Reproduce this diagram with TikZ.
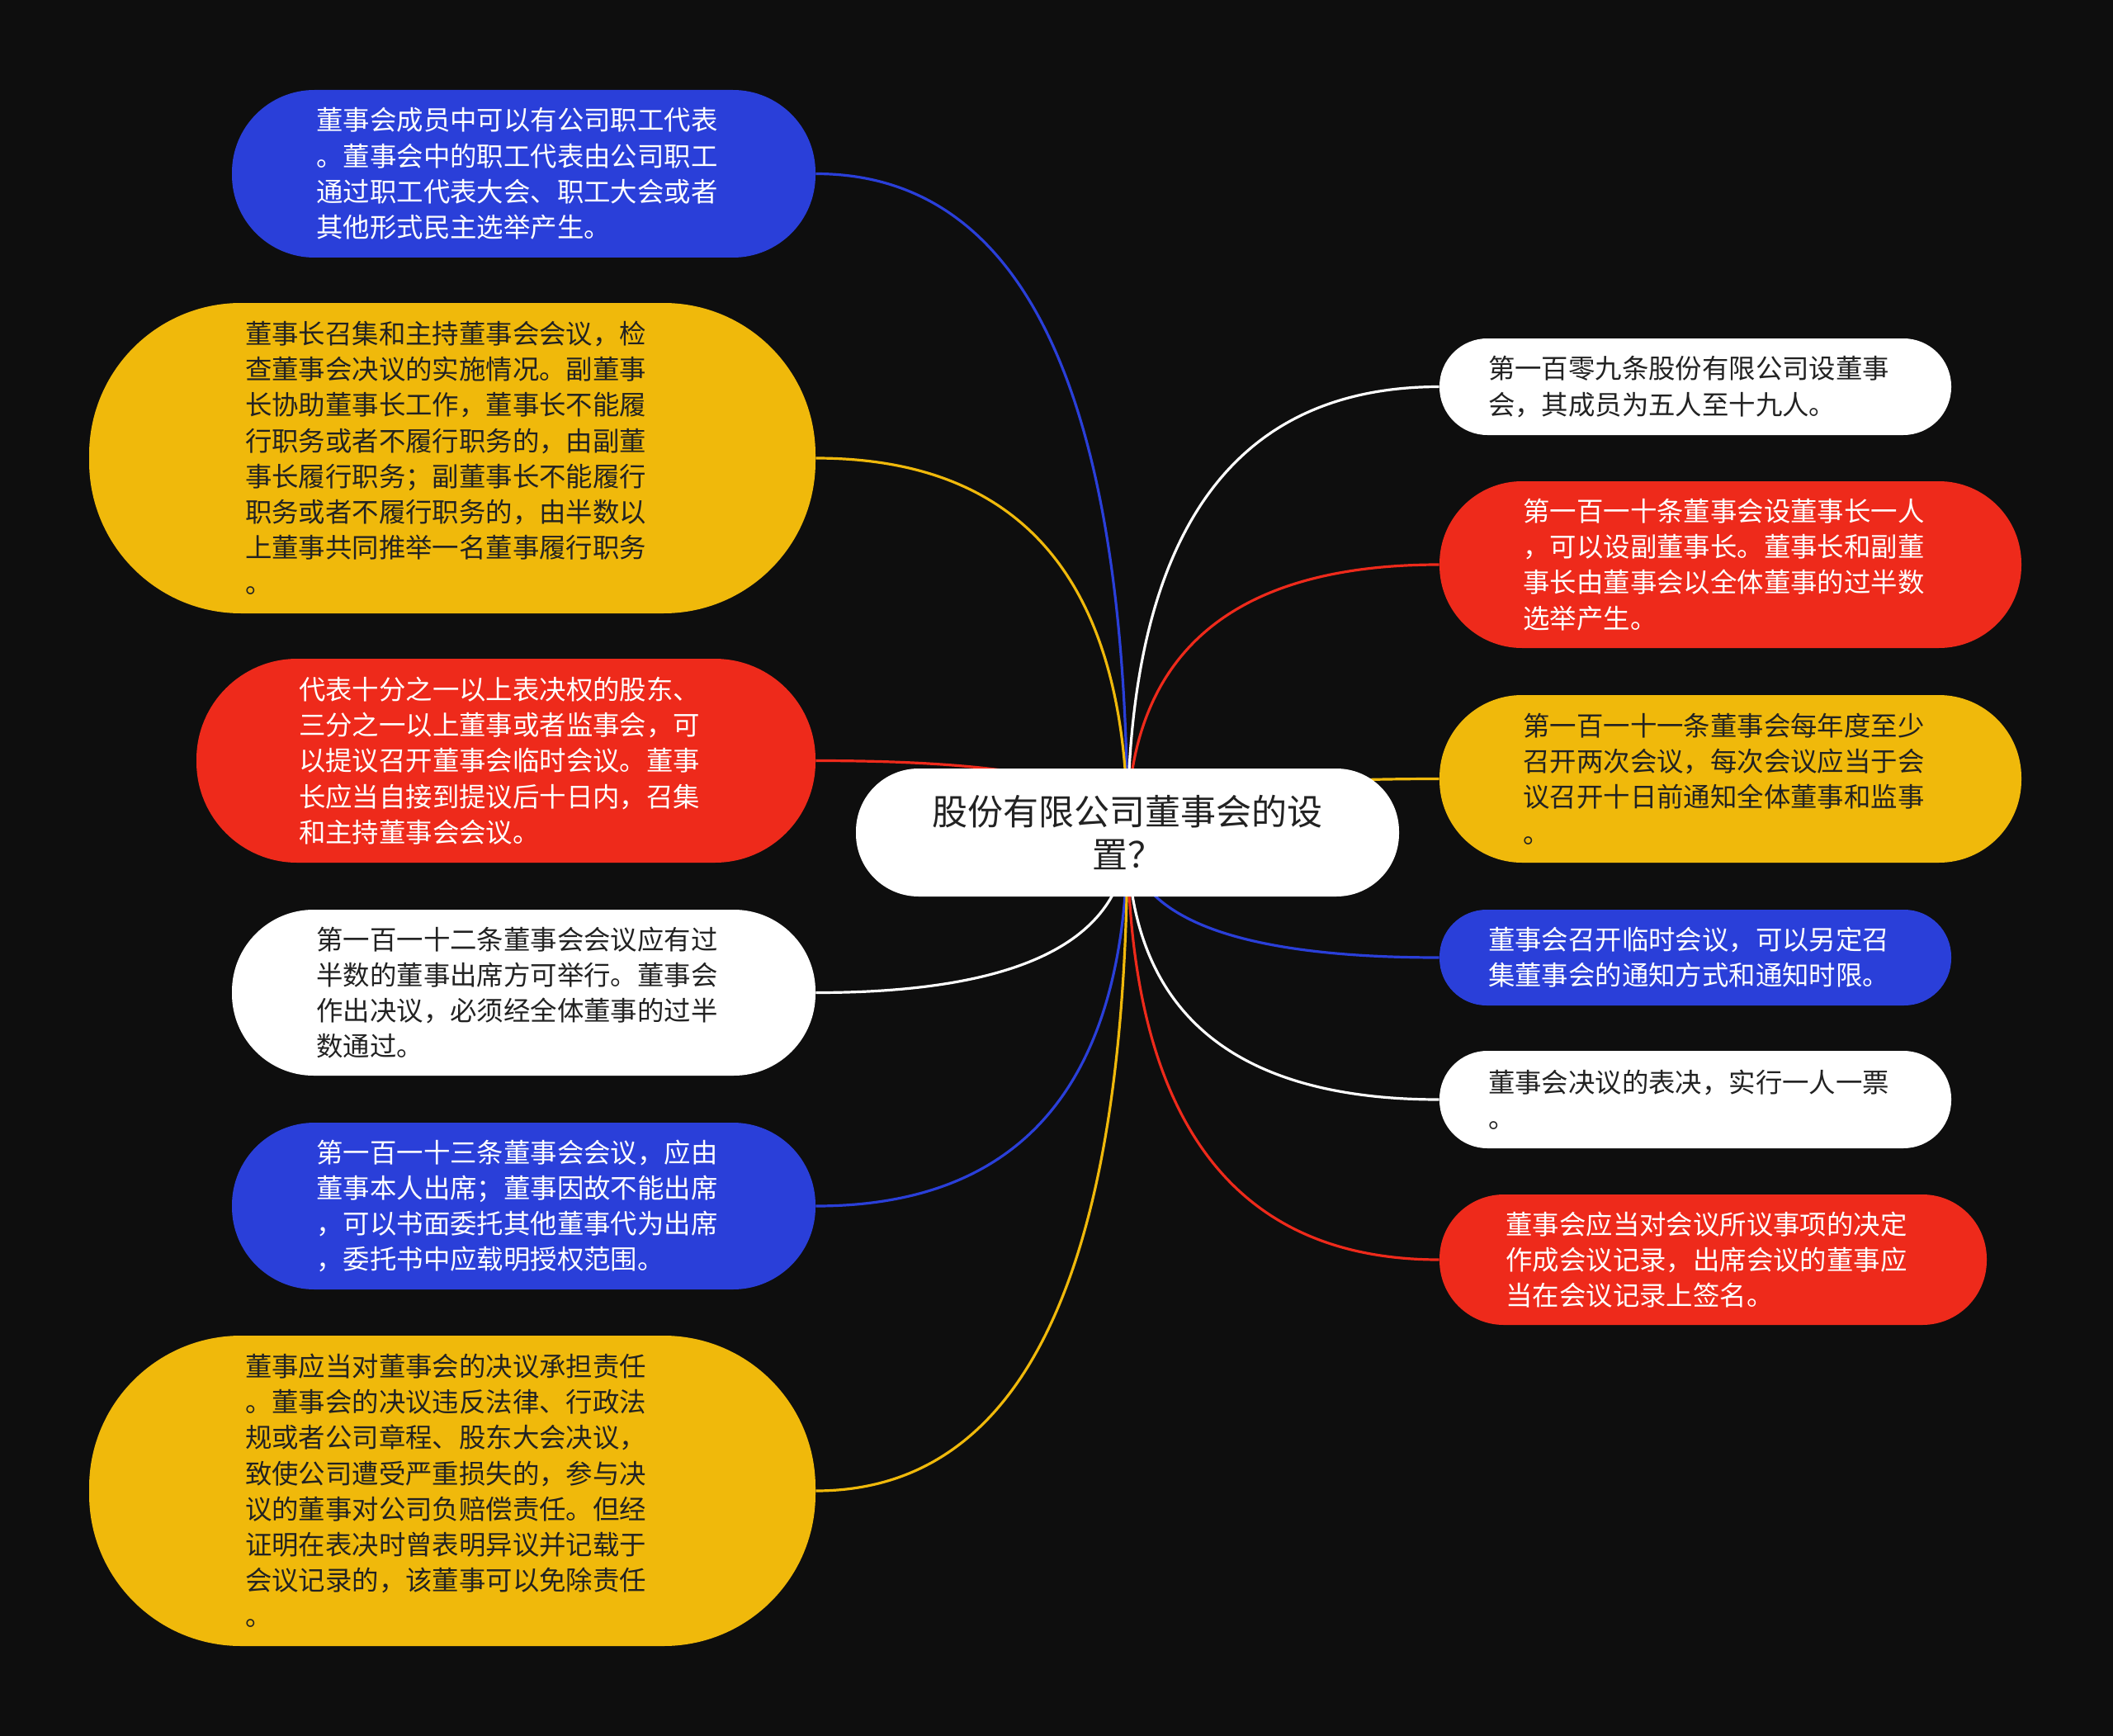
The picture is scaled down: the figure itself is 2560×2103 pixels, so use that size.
\documentclass[tikz,border=0pt]{standalone}
\usepackage{fontspec}
\setmainfont{Noto Sans CJK SC}
\usetikzlibrary{calc}
\definecolor{bgc}{RGB}{14,14,14}
\definecolor{cblue}{RGB}{42,63,217}
\definecolor{cyellow}{RGB}{240,185,11}
\definecolor{cred}{RGB}{238,42,27}
\definecolor{cdark}{RGB}{34,34,34}
\pgfdeclarelayer{back}
\pgfsetlayers{back,main}
\newcommand\linkto[3]{\draw[link,#3] (#1.center) .. controls ($(#1.center)!0.667!(#1.center|-#2)$) and ($(#2)!0.667!(#1.center|-#2)$) .. (#2);}
\tikzset{
  pill/.style n args={3}{rectangle, draw=none, minimum width=#1pt, minimum height=#2pt, rounded corners=#3pt, inner sep=0pt},
  body/.style={font=\fontsize{16.2pt}{21.6pt}\selectfont, text width=251pt, align=left},
  bluebox/.style={fill=cblue, text=white},
  yellowbox/.style={fill=cyellow, text=cdark},
  redbox/.style={fill=cred, text=white},
  whitebox/.style={fill=white, text=cdark},
  link/.style={line width=1.6pt}
}
\begin{document}
\begin{tikzpicture}[x=0.5pt,y=-0.5pt]
\begin{pgfonlayer}{back}
\fill[bgc] (0,0) rectangle (2560,2103);
\end{pgfonlayer}
\useasboundingbox (0,0) rectangle (2560,2103);

\node[pill={329}{77.5}{38}, whitebox, font=\fontsize{21.5pt}{26pt}\selectfont, align=center] (c) at (1366,1008.5) {股份有限公司董事会的设\\置？};

\node[pill={353.5}{101.5}{50}, bluebox, body] (L1) at (634.5,210.5) {董事会成员中可以有公司职工代表\\。董事会中的职工代表由公司职工\\通过职工代表大会、职工大会或者\\其他形式民主选举产生。};
\node[pill={440}{188}{92}, yellowbox, body] (L2) at (548,555) {董事长召集和主持董事会会议，检\\查董事会决议的实施情况。副董事\\长协助董事长工作，董事长不能履\\行职务或者不履行职务的，由副董\\事长履行职务；副董事长不能履行\\职务或者不履行职务的，由半数以\\上董事共同推举一名董事履行职务\\。};
\node[pill={375}{123.5}{61}, redbox, body] (L3) at (613,921.5) {代表十分之一以上表决权的股东、\\三分之一以上董事或者监事会，可\\以提议召开董事会临时会议。董事\\长应当自接到提议后十日内，召集\\和主持董事会会议。};
\node[pill={353.5}{100.5}{49.5}, whitebox, body] (L4) at (634.5,1202.5) {第一百一十二条董事会会议应有过\\半数的董事出席方可举行。董事会\\作出决议，必须经全体董事的过半\\数通过。};
\node[pill={353.5}{101}{50}, bluebox, body] (L5) at (634.5,1461) {第一百一十三条董事会会议，应由\\董事本人出席；董事因故不能出席\\，可以书面委托其他董事代为出席\\，委托书中应载明授权范围。};
\node[pill={440}{188}{92}, yellowbox, body] (L6) at (548,1806) {董事应当对董事会的决议承担责任\\。董事会的决议违反法律、行政法\\规或者公司章程、股东大会决议，\\致使公司遭受严重损失的，参与决\\议的董事对公司负赔偿责任。但经\\证明在表决时曾表明异议并记载于\\会议记录的，该董事可以免除责任\\。};

\node[pill={310}{58.5}{29}, whitebox, body] (R1) at (2054,468.5) {第一百零九条股份有限公司设董事\\会，其成员为五人至十九人。};
\node[pill={352.5}{101}{50}, redbox, body] (R2) at (2096.5,684) {第一百一十条董事会设董事长一人\\，可以设副董事长。董事长和副董\\事长由董事会以全体董事的过半数\\选举产生。};
\node[pill={352.5}{101.5}{50}, yellowbox, body] (R3) at (2096.5,943.5) {第一百一十一条董事会每年度至少\\召开两次会议，每次会议应当于会\\议召开十日前通知全体董事和监事\\。};
\node[pill={310}{58}{28.5}, bluebox, body] (R4) at (2054,1160) {董事会召开临时会议，可以另定召\\集董事会的通知方式和通知时限。};
\node[pill={310}{59}{29}, whitebox, body] (R5) at (2054,1332) {董事会决议的表决，实行一人一票\\。};
\node[pill={331.5}{79}{39}, redbox, body] (R6) at (2075.5,1526) {董事会应当对会议所议事项的决定\\作成会议记录，出席会议的董事应\\当在会议记录上签名。};

\begin{pgfonlayer}{back}
\linkto{c}{L1.east}{cblue}
\linkto{c}{L2.east}{cyellow}
\linkto{c}{L3.east}{cred}
\linkto{c}{L4.east}{white}
\linkto{c}{L5.east}{cblue}
\linkto{c}{L6.east}{cyellow}
\linkto{c}{R1.west}{white}
\linkto{c}{R2.west}{cred}
\linkto{c}{R3.west}{cyellow}
\linkto{c}{R4.west}{cblue}
\linkto{c}{R5.west}{white}
\linkto{c}{R6.west}{cred}
\end{pgfonlayer}
\end{tikzpicture}
\end{document}
